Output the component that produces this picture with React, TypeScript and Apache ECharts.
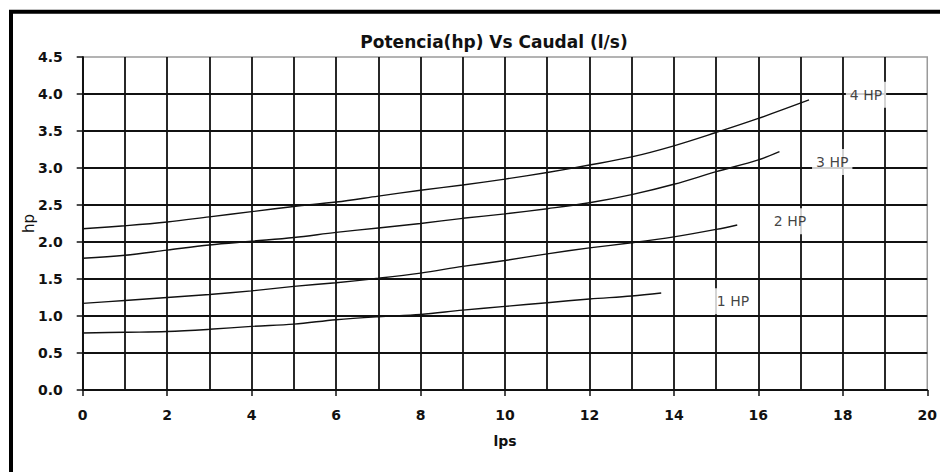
import React, { useEffect, useRef } from "react";
import * as echarts from "echarts";

const titleText = "Potencia(hp) Vs Caudal (l/s)";
const xName = "lps";
const yName = "hp";

const x1hp = [0, 1, 2, 3, 4, 5, 6, 7, 8, 9, 10, 11, 12, 13, 13.7];
const y1hp = [0.77, 0.78, 0.79, 0.82, 0.86, 0.89, 0.95, 0.99, 1.02, 1.08, 1.13, 1.18, 1.23, 1.27, 1.31];

const x2hp = [0, 1, 2, 3, 4, 5, 6, 7, 8, 9, 10, 11, 12, 13, 14, 15, 15.5];
const y2hp = [1.17, 1.21, 1.25, 1.29, 1.34, 1.4, 1.45, 1.51, 1.58, 1.67, 1.75, 1.84, 1.92, 1.99, 2.07, 2.17, 2.23];

const x3hp = [0, 1, 2, 3, 4, 5, 6, 7, 8, 9, 10, 11, 12, 13, 14, 15, 16, 16.5];
const y3hp = [1.78, 1.82, 1.89, 1.96, 2.01, 2.06, 2.13, 2.19, 2.25, 2.32, 2.38, 2.45, 2.53, 2.64, 2.78, 2.95, 3.11, 3.22];

const x4hp = [0, 1, 2, 3, 4, 5, 6, 7, 8, 9, 10, 11, 12, 13, 14, 15, 16, 17.2];
const y4hp = [2.18, 2.22, 2.27, 2.34, 2.41, 2.48, 2.54, 2.62, 2.7, 2.77, 2.85, 2.94, 3.04, 3.15, 3.3, 3.48, 3.67, 3.92];

const labelNames = ["1 HP", "2 HP", "3 HP", "4 HP"];
const labelX = [15.4, 16.75, 17.75, 18.55];
const labelY = [1.2, 2.28, 3.08, 3.99];

const zip = (xs: number[], ys: number[]) => xs.map((x, i) => [x, ys[i]]);

export default function App() {
  const ref = useRef<HTMLDivElement>(null);
  useEffect(() => {
    if (!ref.current) return;
    const chart = echarts.init(ref.current, null, { renderer: "svg" });
    const font = "'DejaVu Sans', sans-serif";
    const curve = (name: string, xs: number[], ys: number[]) => ({
      name,
      type: "line",
      smooth: 0.35,
      symbol: "none",
      data: zip(xs, ys),
      lineStyle: { color: "#111", width: 1.4 },
      z: 3,
    });
    chart.setOption({
      animation: false,
      backgroundColor: "#fff",
      title: {
        text: titleText,
        left: 489,
        top: 28,
        textAlign: "center",
        textStyle: { fontFamily: font, fontWeight: "bold", fontSize: 17, color: "#111" },
      },
      grid: {
        left: 82.7,
        right: 12.5,
        top: 57,
        bottom: 82,
        show: true,
        borderColor: "#9a9a9a",
        borderWidth: 1.5,
      },
      graphic: [
        {
          type: "rect",
          shape: { x: 11, y: 11.7, width: 1000, height: 1000 },
          style: { fill: "none", stroke: "#000", lineWidth: 4 },
          silent: true,
        },
      ],
      xAxis: {
        type: "value",
        min: 0,
        max: 20,
        interval: 2,
        name: xName,
        nameLocation: "middle",
        nameGap: 44,
        nameMoveOverlap: false,
        nameTextStyle: { fontFamily: font, fontWeight: "bold", fontSize: 14, color: "#111" },
        axisLine: { show: true, lineStyle: { color: "#111", width: 1.8 } },
        axisTick: { show: true, length: 6, lineStyle: { color: "#111", width: 1.5 } },
        axisLabel: { margin: 18, fontFamily: font, fontWeight: "bold", fontSize: 14, color: "#111" },
        splitLine: { show: true, showMaxLine: false, lineStyle: { color: "#111", width: 1.8 } },
        minorTick: { show: false, splitNumber: 2 },
        minorSplitLine: { show: true, lineStyle: { color: "#111", width: 1.8 } },
      },
      yAxis: {
        type: "value",
        min: 0,
        max: 4.5,
        interval: 0.5,
        name: yName,
        nameLocation: "middle",
        nameGap: 46,
        nameMoveOverlap: false,
        nameTextStyle: { fontFamily: font, fontSize: 15, color: "#111" },
        axisLine: { show: true, lineStyle: { color: "#111", width: 1.8 } },
        axisTick: { show: true, length: 6, lineStyle: { color: "#111", width: 1.5 } },
        axisLabel: {
          margin: 20,
          fontFamily: font,
          fontWeight: "bold",
          fontSize: 14,
          color: "#111",
          formatter: (v: number) => v.toFixed(1),
        },
        splitLine: { show: true, showMaxLine: false, lineStyle: { color: "#111", width: 1.8 } },
      },
      series: [
        curve("1 HP", x1hp, y1hp),
        curve("2 HP", x2hp, y2hp),
        curve("3 HP", x3hp, y3hp),
        curve("4 HP", x4hp, y4hp),
        {
          type: "scatter",
          symbolSize: 0,
          z: 5,
          data: labelNames.map((n, i) => ({ name: n, value: [labelX[i], labelY[i]] })),
          label: {
            show: true,
            position: "inside",
            formatter: (p: any) => p.name,
            fontFamily: font,
            fontSize: 14,
            color: "#111",
            backgroundColor: "#fff",
            padding: [6, 4],
          },
        },
      ],
    });
    return () => chart.dispose();
  }, []);
  return (
    <div
      ref={ref}
      style={{ position: "absolute", left: 0, top: 0, width: 940, height: 472 }}
    />
  );
}
